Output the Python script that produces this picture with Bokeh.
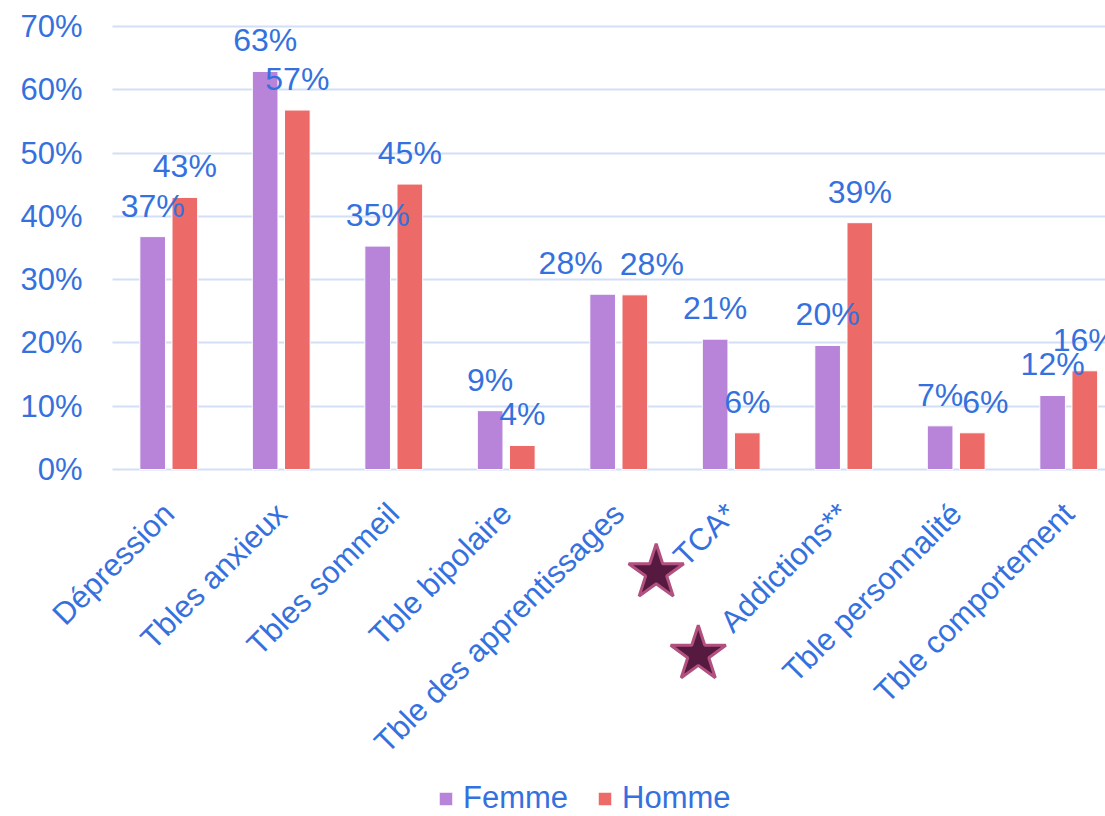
import math
from bokeh.plotting import figure
from bokeh.models import (ColumnDataSource, FixedTicker, Legend, LegendItem,
                          PrintfTickFormatter)
from bokeh.core.properties import value
from bokeh.embed import file_html
from bokeh.resources import INLINE
from bokeh.transform import dodge

categories = ["Dépression", "Tbles anxieux", "Tbles sommeil", "Tble bipolaire",
              "Tble des apprentissages", "TCA*", "Addictions**",
              "Tble personnalité", "Tble comportement"]
femme = [36.8, 62.9, 35.3, 9.3, 27.7, 20.6, 19.6, 6.9, 11.7]
homme = [43.0, 56.8, 45.1, 3.8, 27.6, 5.8, 39.0, 5.8, 15.6]
y_ticks = [0, 10, 20, 30, 40, 50, 60, 70]
starred = ["TCA*", "Addictions**"]

# style: horizontal nudges (px) of some value labels, star placement
femme_lbl_dx = [0, 0, 0, 0, -32, 0, 0, 0, 0]
homme_lbl_dx = [0, 0, 0, 0, 17, 0, 0, 13, 0]
star_pos = {"TCA*": (-0.667, -16.3), "Addictions**": (-1.293, -29.2)}

FONT = "Liberation Sans"
BLUE = "#3571DE"
PURPLE = "#B784DA"
RED = "#EC6A67"
GRID = "#D3DFF6"

xs = list(range(len(categories)))
src = ColumnDataSource(dict(
    x=xs, femme=femme, homme=homme,
    femme_lbl=[f"{v:.0f}%" for v in femme],
    homme_lbl=[f"{v:.0f}%" for v in homme],
    femme_dx=femme_lbl_dx, homme_dx=homme_lbl_dx,
))

X0 = -0.5           # left edge of the plotting area (data units)
X1 = 8.327          # right edge
p = figure(width=1105, height=816, x_range=(-1.4956, X1), y_range=(-54.83, 74.11),
           output_backend="svg", toolbar_location=None,
           min_border_left=0, min_border_top=0, min_border_right=0,
           min_border_bottom=0)
p.outline_line_color = None
p.background_fill_color = "white"

OFF = 0.143
W = 0.228
r1 = p.vbar(x=dodge("x", -OFF, range=p.x_range), top="femme", width=W, source=src,
            fill_color=PURPLE, line_color="white", line_width=1)
r2 = p.vbar(x=dodge("x", OFF, range=p.x_range), top="homme", width=W, source=src,
            fill_color=RED, line_color="white", line_width=1)

for key, off in (("femme", -OFF), ("homme", OFF)):
    p.text(x=dodge("x", off, range=p.x_range), y=key, text=key + "_lbl",
           x_offset=key + "_dx", source=src, text_align="center",
           text_baseline="alphabetic", y_offset=-31,
           text_font=value(FONT), text_font_size="32px", text_color=BLUE)

# stars beside the starred category labels
sx = [categories.index(n) + star_pos[n][0] for n in starred]
sy = [star_pos[n][1] for n in starred]
p.scatter(x=sx, y=sy, marker="star", size=58, fill_color="#561A40",
          line_color="#B2507F", line_width=3)

# axes
p.yaxis.ticker = FixedTicker(ticks=y_ticks)
p.yaxis.formatter = PrintfTickFormatter(format="%d%%")
p.yaxis.fixed_location = X0
p.xaxis.ticker = FixedTicker(ticks=xs)
p.xaxis.major_label_overrides = {i: c for i, c in zip(xs, categories)}
p.xaxis.major_label_orientation = math.pi / 4
p.xaxis.fixed_location = 0
for ax in (p.xaxis, p.yaxis):
    ax.axis_line_color = None
    ax.major_tick_line_color = None
    ax.minor_tick_line_color = None
    ax.major_tick_out = 0
    ax.major_tick_in = 0
    ax.major_label_text_font = FONT
    ax.major_label_text_font_size = "31px"
    ax.major_label_text_color = BLUE
p.yaxis.major_label_standoff = 30
p.xaxis.major_label_standoff = 39

p.xgrid.grid_line_color = None
p.ygrid.grid_line_color = GRID
p.ygrid.grid_line_width = 2
p.ygrid.cross_bounds = (X0, X1)

legend = Legend(items=[LegendItem(label="Femme", renderers=[r1]),
                       LegendItem(label="Homme", renderers=[r2])],
                orientation="horizontal", location=(437, 0),
                label_text_font=FONT, label_text_font_size="31px",
                label_text_color=BLUE, glyph_width=17, glyph_height=17,
                label_standoff=9, spacing=28, padding=0, margin=0,
                border_line_color=None, background_fill_alpha=0)
p.add_layout(legend, "center")

open("out.html", "w").write(file_html(p, INLINE))
